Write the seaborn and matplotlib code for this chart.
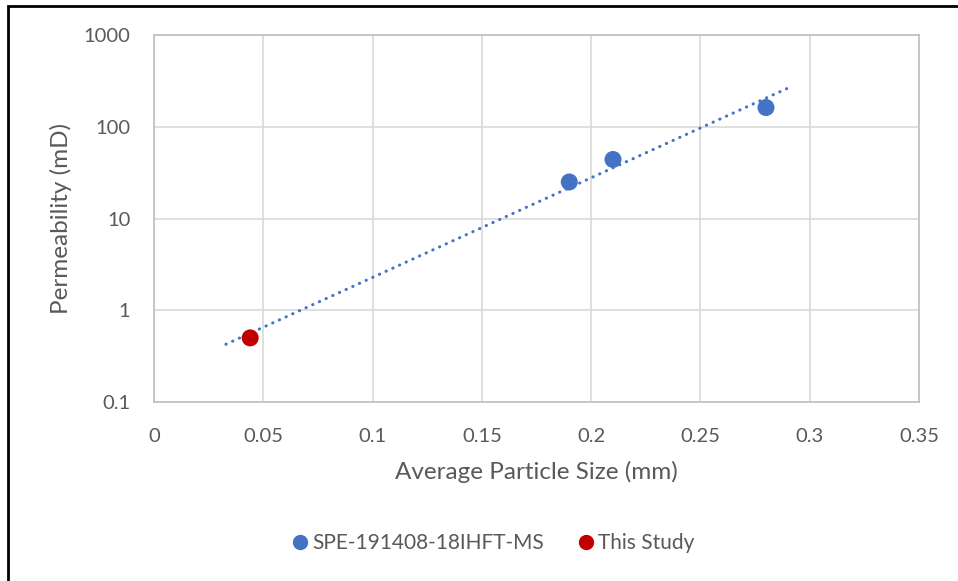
import numpy as np
import pandas as pd
import matplotlib
matplotlib.use("Agg")
import matplotlib.pyplot as plt
import seaborn as sns

# Average particle size (mm) and permeability (mD)
spe_size = [0.19, 0.21, 0.28]
spe_perm = [25, 44, 162]
study_size = [0.044]
study_perm = [0.5]
series_names = ["SPE-191408-18IHFT-MS", "This Study"]
x_ticks = [0, 0.05, 0.1, 0.15, 0.2, 0.25, 0.3, 0.35]
x_tick_labels = ["0", "0.05", "0.1", "0.15", "0.2", "0.25", "0.3", "0.35"]
y_ticks = [0.1, 1, 10, 100, 1000]
y_tick_labels = ["0.1", "1", "10", "100", "1000"]

df = pd.DataFrame({
    "size": spe_size + study_size,
    "perm": spe_perm + study_perm,
    "series": [series_names[0]] * len(spe_size) + [series_names[1]] * len(study_size),
})

sns.set_theme(style="white")
plt.rcParams["font.family"] = ["Lato", "DejaVu Sans"]
text_col = "#595959"
grid_col = "#d9d9d9"
W, H = 958, 581

fig = plt.figure(figsize=(W / 100, H / 100), dpi=100)
ax = fig.add_axes([154 / W, 1 - 402 / H, (919 - 154) / W, (402 - 35) / H])

# Exponential trendline fitted to all points
coef = np.polyfit(df["size"], np.log(df["perm"]), 1)
span = df["size"].max() - df["size"].min()
xt = np.linspace(df["size"].min() - 0.047 * span, df["size"].max() + 0.047 * span, 200)
ax.plot(xt, np.exp(np.polyval(coef, xt)), color="#4472C4", lw=2.2,
        linestyle=(0, (0.1, 2.3)), dash_capstyle="round", zorder=2)

sns.scatterplot(data=df, x="size", y="perm", hue="series",
                palette={series_names[0]: "#4472C4", series_names[1]: "#C00000"},
                s=150, edgecolor="none", ax=ax, zorder=3, legend=False)

ax.set_yscale("log")
ax.set_xlim(0, 0.35)
ax.set_ylim(0.1, 1000)
ax.set_xticks(x_ticks)
ax.set_xticklabels(x_tick_labels)
ax.set_yticks(y_ticks)
ax.set_yticklabels(y_tick_labels)
ax.minorticks_off()
ax.tick_params(axis="both", length=0, labelsize=14.5, colors=text_col)
ax.tick_params(axis="x", pad=19)
ax.tick_params(axis="y", pad=17)
ax.grid(True, color=grid_col, lw=1.2)
ax.set_axisbelow(True)
for sp in ax.spines.values():
    sp.set_color("#bfbfbf")
    sp.set_linewidth(1.2)

ax.set_xlabel("")
ax.set_ylabel("")
fig.text(536 / W, 1 - 472 / H, "Average Particle Size (mm)", fontsize=17.5,
         color=text_col, ha="center", va="center")
fig.text(61 / W, 1 - 218 / H, "Permeability (mD)", fontsize=17.5,
         color=text_col, ha="center", va="center", rotation=90)

handles = [
    plt.Line2D([], [], marker="o", ls="none", color="#4472C4", markersize=10),
    plt.Line2D([], [], marker="o", ls="none", color="#C00000", markersize=10),
]
fig.legend(handles, series_names, loc="center", bbox_to_anchor=(487 / W, 1 - 543 / H),
           ncol=2, frameon=False, fontsize=15, handletextpad=-0.4, columnspacing=1.0,
           labelcolor=text_col)

# outer chart border
fig.patches.append(plt.Rectangle((8 / W, -0.05), 1.1, 1 - 6 / H + 0.05,
                                 transform=fig.transFigure, fill=False,
                                 edgecolor="black", lw=2))

fig.savefig("out.png", dpi=100)
